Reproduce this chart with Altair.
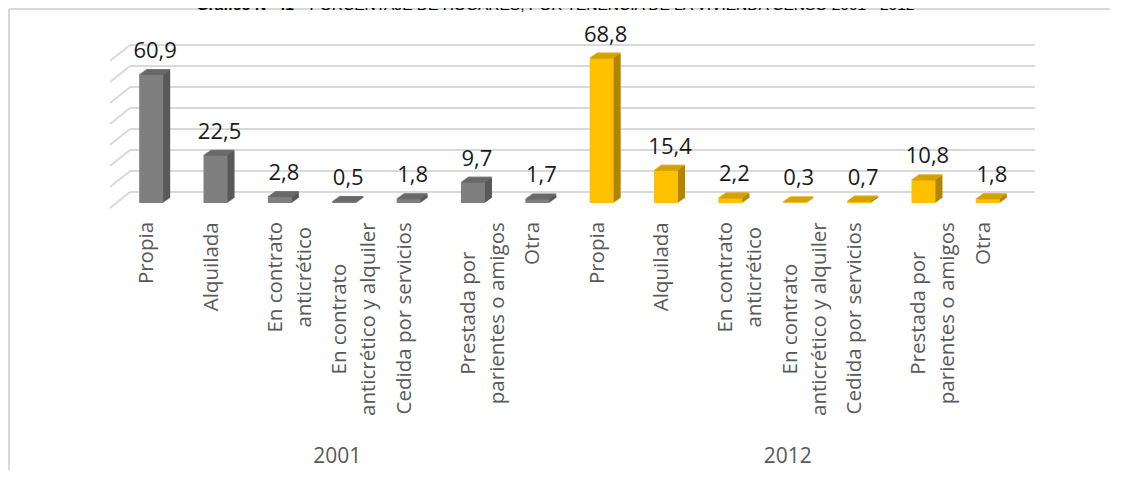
import altair as alt
import pandas as pd

# ---------------- data ----------------
years = ["2001", "2012"]
categories = [
    "Propia",
    "Alquilada",
    "En contrato\nanticrético",
    "En contrato\nanticrético y alquiler",
    "Cedida por servicios",
    "Prestada por\nparientes o amigos",
    "Otra",
]
values_2001 = [60.9, 22.5, 2.8, 0.5, 1.8, 9.7, 1.7]
values_2012 = [68.8, 15.4, 2.2, 0.3, 0.7, 10.8, 1.8]
grid_values = [0, 10, 20, 30, 40, 50, 60, 70]
title_bold = "Gráfico N° 41"
title_rest = "- PORCENTAJE DE HOGARES, POR TENENCIA DE LA VIVIENDA CENSO 2001 - 2012"

# ---------------- layout / style ----------------
W, H = 901, 147
PL, PT = 111, 48
TOTAL_W, TOTAL_H = 1104, 462
FONT = "Open Sans"
LAB_SIZE = 20.5
DEPTH_X, DEPTH_Y, STEPS = 7, 5, 7

front = {"2001": "#7f7f7f", "2012": "#ffc000"}
side = {"2001": "#595959", "2012": "#b08500"}
top = {"2001": "#6b6b6b", "2012": "#d9a400"}

# approximate Open Sans advance widths (em) used only to centre wrapped labels
_w = {" ": .26, "P": .586, "A": .633, "E": .541, "C": .631, "O": .77,
      "a": .557, "b": .613, "c": .48, "d": .613, "e": .561, "é": .561,
      "g": .547, "i": .258, "l": .258, "m": .932, "n": .614, "o": .602,
      "p": .613, "q": .613, "r": .41, "s": .477, "t": .353, "u": .614,
      "v": .5, "y": .5}


def text_len(s):
    return sum(_w.get(ch, .55) for ch in s) * LAB_SIZE


rows = []
for y, vals in zip(years, [values_2001, values_2012]):
    for i, (c, v) in enumerate(zip(categories, vals)):
        longest = max(text_len(part) for part in c.split("\n"))
        rows.append({
            "key": f"{y}|{i}",
            "year": y,
            "cat": c,
            "value": v,
            "vlabel": f"{v:.1f}".replace(".", ","),
            "ly": H + 19 + longest / 2,
        })
df = pd.DataFrame(rows)
keys = list(df["key"])
grid_df = pd.DataFrame({"v": grid_values})
group_df = pd.DataFrame({"key": [f"{y}|3" for y in years], "year": years})

xs = alt.Scale(domain=keys, paddingInner=0.627, paddingOuter=0.3135)
ys = alt.Scale(domain=[0, 70], nice=False, zero=True)
X = alt.X("key:N", scale=xs, axis=None)
Y = alt.Y("value:Q", scale=ys, axis=None)


def col(d):
    return alt.condition(alt.datum.year == "2001", alt.value(d["2001"]), alt.value(d["2012"]))


base = alt.Chart(df)
layers = []

# back-wall gridlines and left-wall diagonals
layers.append(
    alt.Chart(grid_df).mark_rule(color="#d9d9d9", strokeWidth=2, yOffset=-11).encode(
        y=alt.Y("v:Q", scale=ys, axis=None), x=alt.value(11), x2=alt.value(916)
    )
)
layers.append(
    alt.Chart(grid_df).mark_rule(color="#d9d9d9", strokeWidth=2, yOffset=5, y2Offset=-11).encode(
        y=alt.Y("v:Q", scale=ys, axis=None), y2=alt.Y2("v:Q"), x=alt.value(-9), x2=alt.value(11)
    )
)

# side faces (sweep)
for k in range(1, STEPS + 1):
    dx = k * DEPTH_X / STEPS
    dy = k * DEPTH_Y / STEPS
    layers.append(
        base.mark_bar(xOffset=dx, yOffset=-dy, y2Offset=-dy).encode(x=X, y=Y, color=col(side))
    )
# top faces (sweep of thin strips)
for k in range(0, STEPS + 1):
    dx = k * DEPTH_X / STEPS
    dy = k * DEPTH_Y / STEPS
    layers.append(
        base.mark_bar(xOffset=dx, yOffset=-dy - 1, y2Offset=-dy).encode(
            x=X, y=Y, y2=alt.Y2("value:Q"), color=col(top)
        )
    )
# front faces
layers.append(base.mark_bar().encode(x=X, y=Y, color=col(front)))

# value labels
layers.append(
    base.mark_text(font=FONT, fontSize=22, color="#1a1a1a", xOffset=4, dy=-17, baseline="alphabetic").encode(
        x=X, y=Y, text="vlabel:N"
    )
)
# category labels
layers.append(
    base.mark_text(font=FONT, fontSize=LAB_SIZE, color="#595959", angle=270, align="center",
                   baseline="middle", lineHeight=29, lineBreak="\n", xOffset=-4).encode(
        x=X, y=alt.Y("ly:Q", scale=None, axis=None), text="cat:N"
    )
)
# group labels
layers.append(
    alt.Chart(group_df).mark_text(font=FONT, fontSize=21, color="#595959", baseline="middle", xOffset=-7).encode(
        x=X, y=alt.value(H + 254), text="year:N"
    )
)
# outer border (left and top edges; the others fall outside the picture)
layers.append(
    alt.Chart(grid_df).mark_rule(color="#d9d9d9", strokeWidth=1.5).encode(
        x=alt.value(1 - PL), y=alt.value(1 - PT), y2=alt.value(TOTAL_H - PT + 30)
    )
)
layers.append(
    alt.Chart(grid_df).mark_rule(color="#d9d9d9", strokeWidth=1.5).encode(
        y=alt.value(1 - PT), x=alt.value(1 - PL), x2=alt.value(TOTAL_W - PL - 2)
    )
)
# title (mostly cut off at the top, as in the source)
layers.append(
    alt.Chart(group_df.head(1)).mark_text(font="Liberation Sans", fontSize=15.5, fontWeight="bold",
                                          align="right", baseline="alphabetic", color="#000").encode(
        x=alt.value(294 - 8 - PL), y=alt.value(-PT + 2), text=alt.value(title_bold)
    )
)
layers.append(
    alt.Chart(group_df.head(1)).mark_text(font="Liberation Sans", fontSize=15.5,
                                          align="left", baseline="alphabetic", color="#000").encode(
        x=alt.value(300 - 8 - PL), y=alt.value(-PT + 2), text=alt.value(title_rest)
    )
)

chart = alt.layer(*layers).properties(
    width=W, height=H,
    autosize=alt.AutoSizeParams(type="none"),
    padding={"left": PL, "top": PT, "right": TOTAL_W - PL - W, "bottom": TOTAL_H - PT - H},
).configure(background="white").configure_view(stroke=None)

chart.save("out.html", embed_options={"renderer": "svg", "actions": False})
